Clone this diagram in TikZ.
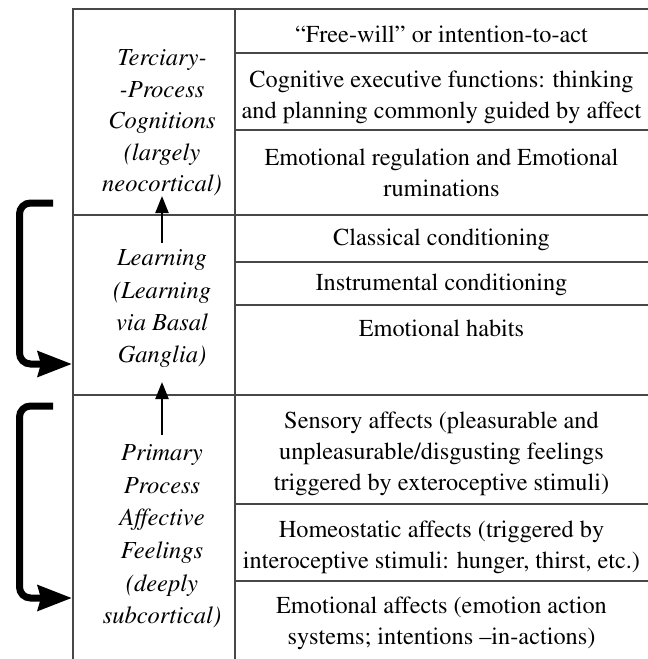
\documentclass[tikz,border=0pt]{standalone}
\usepackage[T1]{fontenc}
\usepackage{mathptmx}
\usetikzlibrary{arrows.meta}
\begin{document}
\begin{tikzpicture}[x=1pt,y=-1pt,
  grid/.style={draw=black!72, line width=1.1pt},
  rtxt/.style={font=\fontsize{24.3}{31}\selectfont, align=center, inner sep=0pt},
  ltxt/.style={font=\fontsize{24.5}{32.3}\selectfont\itshape, align=center, inner sep=0pt},
  bracket/.style={line width=7pt, rounded corners=11pt, -{Stealth[length=34pt,width=25pt,inset=3pt]}},
  uparrow/.style={line width=2.2pt, -{Triangle[length=17pt,width=13pt]}}]
\useasboundingbox (0,0) rectangle (648,659);
% grid
\draw[grid] (648,9) -- (73,9) -- (73,659);
\draw[grid] (235,9) -- (235,659);
\draw[grid] (73,215) -- (648,215);
\draw[grid] (73,395) -- (648,395);
\foreach \yy in {53,130,262,305,504,581}
  \draw[grid] (235,\yy) -- (648,\yy);
% right column texts
\node[rtxt] (r1) at (441.5,34) {``Free-will'' or intention-to-act};
\node[rtxt] (r2) at (441.5,97) {Cognitive executive functions: thinking\\and planning commonly guided by affect};
\node[rtxt] (r3) at (441.5,172.5) {Emotional regulation and Emotional\\ruminations};
\node[rtxt] (r4) at (441.5,240) {Classical conditioning};
\node[rtxt] (r5) at (441.5,285) {Instrumental conditioning};
\node[rtxt] (r6) at (441.5,328) {Emotional habits};
\node[rtxt] (r7) at (441.5,454) {Sensory affects (pleasurable and\\unpleasurable/disgusting feelings\\triggered by exteroceptive stimuli)};
\node[rtxt] (r8) at (441.5,547) {Homeostatic affects (triggered by\\interoceptive stimuli: hunger, thirst, etc.)};
\node[rtxt] (r9) at (441.5,623.5) {Emotional affects (emotion action\\systems; intentions --in-actions)};
% left column texts
\node[ltxt, font=\fontsize{24.5}{31.5}\selectfont\itshape] (t1) at (162,123) {Terciary-\\-Process\\Cognitions\\(largely\\neocortical)};
\node[ltxt] (t2) at (162,309) {Learning\\(Learning\\via Basal\\Ganglia)};
\node[ltxt, font=\fontsize{24.5}{32.6}\selectfont\itshape] (t3) at (162,536.5) {Primary\\Process\\Affective\\Feelings\\(deeply\\subcortical)};
% vertical arrows
\coordinate (a1s) at (162,243); \coordinate (a1e) at (162,196);
\coordinate (a2s) at (162,435); \coordinate (a2e) at (162,382);
\draw[uparrow] (a1s) -- (a1e);
\draw[uparrow] (a2s) -- (a2e);
% brackets
\coordinate (b1s) at (53,203); \coordinate (b1e) at (72,364);
\coordinate (b2s) at (53,406); \coordinate (b2e) at (72,598);
\draw[bracket] (b1s) -- (19.5,203) -- (19.5,364) -- (b1e);
\draw[bracket] (b2s) -- (19.5,406) -- (19.5,598) -- (b2e);
\end{tikzpicture}
\end{document}
